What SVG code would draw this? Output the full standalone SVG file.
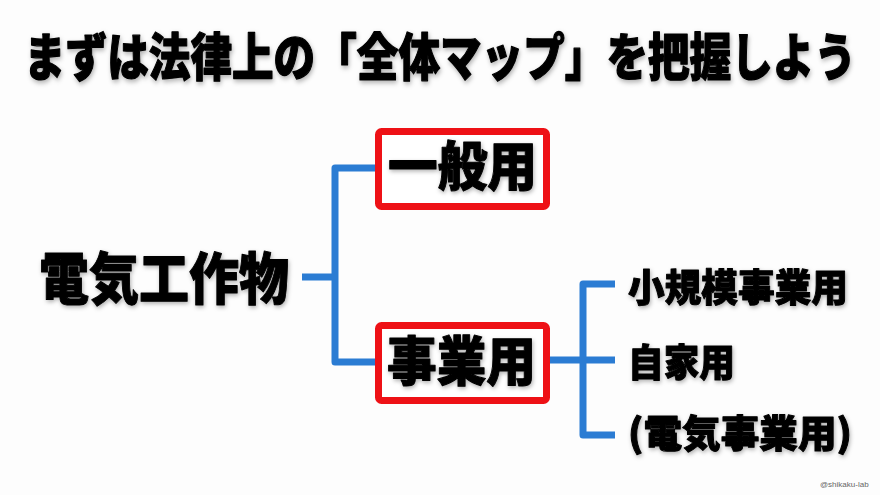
<svg xmlns="http://www.w3.org/2000/svg" width="880" height="495" viewBox="0 0 880 495">
<defs>
<filter id="sh" x="-5%" y="-20%" width="110%" height="150%">
<feDropShadow dx="1" dy="2" stdDeviation="2" flood-color="#000" flood-opacity="0.3"/>
</filter>
</defs>
<style>
.t{font-family:"Noto Sans CJK JP","Noto Sans",sans-serif;font-weight:900;fill:#000;stroke:#000;stroke-width:1;stroke-linejoin:round;dominant-baseline:central;filter:url(#sh)}
.c{fill:none;stroke:#2b7cd3;stroke-width:7;stroke-linejoin:round;stroke-linecap:butt}
.b{fill:#fff;stroke:#ee1116;stroke-width:7}
.w{font-family:"Liberation Sans",Arial,sans-serif;font-size:8px;fill:#666}
</style>
<rect width="880" height="495" fill="#fdfdfd"/>
<g id="title"><text class="t" transform="translate(24,54) scale(1,1.22)" x="0" y="0" font-size="42" textLength="832" lengthAdjust="spacingAndGlyphs">まずは法律上の「全体マップ」を把握しよう</text></g>
<g id="connectors">
<path class="c" d="M302 277 H335 M375 168 H335 V362 H375"/>
<path class="c" d="M550 360 H583 M615 284 H583 V435 H615 M583 360 H615"/>
</g>
<g id="root"><text class="t" x="39" y="274" font-size="56" textLength="250" lengthAdjust="spacingAndGlyphs">電気工作物</text></g>
<g id="general"><rect class="b" x="378.500" y="131.500" width="168" height="75" rx="3"/><text class="t" x="388" y="163" font-size="53" textLength="149" lengthAdjust="spacingAndGlyphs">一般用</text></g>
<g id="business"><rect class="b" x="378.500" y="325.500" width="168" height="75" rx="3"/><text class="t" x="387" y="358" font-size="53" textLength="149" lengthAdjust="spacingAndGlyphs">事業用</text></g>
<g id="small"><text class="t" x="628" y="284" font-size="38" textLength="220" lengthAdjust="spacingAndGlyphs">小規模事業用</text></g>
<g id="self"><text class="t" x="628" y="359" font-size="38" textLength="107" lengthAdjust="spacingAndGlyphs">自家用</text></g>
<g id="utility"><text class="t" x="628" y="430" font-size="38" textLength="224" lengthAdjust="spacingAndGlyphs">(電気事業用)</text></g>
<text class="w" x="820" y="487">@shikaku-lab</text>
</svg>
